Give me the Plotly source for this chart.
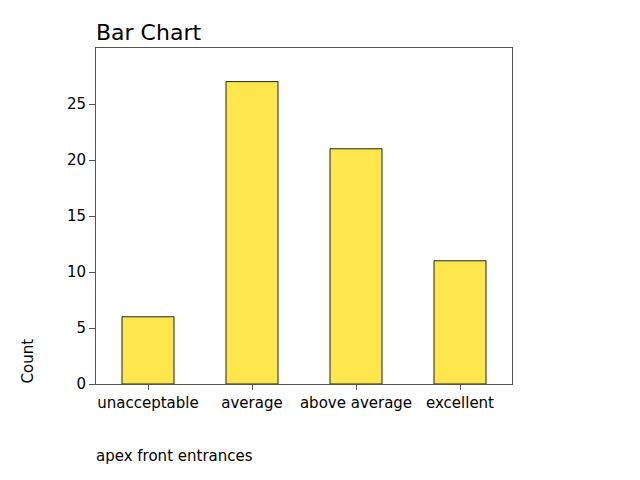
import plotly.graph_objects as go

categories = ["unacceptable", "average", "above average", "excellent"]
counts = [6, 27, 21, 11]
y_ticks = [0, 5, 10, 15, 20, 25]

font = "DejaVu Sans"
axis_color = "#555555"

fig = go.Figure(go.Bar(
    x=list(range(len(categories))),
    y=counts,
    width=0.5,
    marker=dict(color="#FDE74C", line=dict(color="#222222", width=1)),
))

fig.update_layout(
    width=632, height=472,
    margin=dict(l=88, r=128, t=40, b=96),
    paper_bgcolor="white", plot_bgcolor="white",
    showlegend=False,
    font=dict(family=font, size=15, color="black"),
    xaxis=dict(
        range=[-0.5, 3.5],
        tickmode="array", tickvals=list(range(len(categories))), ticktext=categories,
        showline=True, mirror=True, linecolor=axis_color, linewidth=1,
        ticks="outside", ticklen=5, tickcolor=axis_color, tickwidth=1,
        showgrid=False, zeroline=False,
    ),
    yaxis=dict(
        range=[0, 30],
        tickmode="array", tickvals=y_ticks,
        showline=True, mirror=True, linecolor=axis_color, linewidth=1,
        ticks="outside", ticklen=6, tickcolor=axis_color, tickwidth=1,
        showgrid=False, zeroline=False,
    ),
    annotations=[
        dict(text="Bar Chart", xref="paper", yref="paper", x=0, y=1, xanchor="left",
             yanchor="bottom", xshift=-2, yshift=1, showarrow=False,
             font=dict(size=22, family=font)),
        dict(text="apex front entrances", xref="paper", yref="paper", x=0, y=0,
             xanchor="left", yanchor="middle", xshift=-2, yshift=-72, showarrow=False,
             font=dict(size=15, family=font)),
        dict(text="Count", xref="paper", yref="paper", x=0, y=0, xanchor="center",
             yanchor="bottom", xshift=-69, yshift=-2, textangle=-90, showarrow=False,
             font=dict(size=15, family=font)),
    ],
)

fig.write_html("out.html")
